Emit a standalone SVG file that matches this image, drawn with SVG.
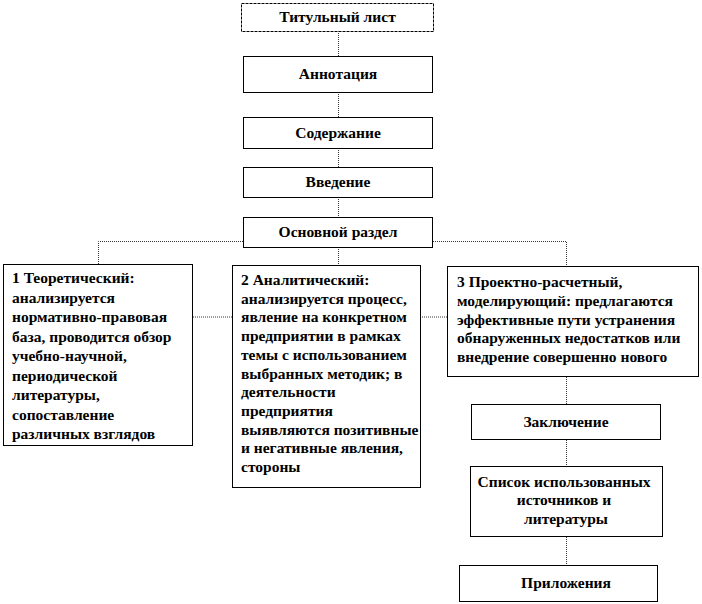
<svg xmlns="http://www.w3.org/2000/svg" width="702" height="604" viewBox="0 0 702 604">
<style>
.box{fill:#fff;stroke:#000;stroke-width:1}
.dash{stroke-dasharray:3,1}
.con{fill:none;stroke:#333;stroke-width:1;stroke-dasharray:1,1}
</style>
<rect width="702" height="604" fill="#fff"/>
<g id="connectors">
<path class="con" d="M338.5,31V56M338.5,92V117M338.5,148V167M338.5,197V217M338.5,247V265"/>
<path class="con" d="M243,241.5H98.5V264M433,241.5H566.5V266"/>
<path class="con" d="M193,317H232M420,317H447"/>
<path class="con" d="M566.5,377V404M566.5,440V466M566.5,537V565"/>
</g>
<g font-family="Times New Roman, Liberation Serif, serif" font-weight="bold" font-size="15.5" fill="#000">
<g id="title">
<rect class="box dash" x="241.5" y="3.5" width="192" height="28"/>
<text text-anchor="middle" x="337.5" y="22">Титульный лист</text>
</g>
<g id="annotation">
<rect class="box" x="243.5" y="56.5" width="189" height="36"/>
<text text-anchor="middle" x="338" y="79">Аннотация</text>
</g>
<g id="contents">
<rect class="box" x="243.5" y="117.5" width="189" height="31"/>
<text text-anchor="middle" x="338" y="138">Содержание</text>
</g>
<g id="intro">
<rect class="box" x="243.5" y="167.5" width="189" height="30"/>
<text text-anchor="middle" x="338" y="187">Введение</text>
</g>
<g id="main">
<rect class="box" x="243.5" y="217.5" width="189" height="30"/>
<text text-anchor="middle" x="338" y="237">Основной раздел</text>
</g>
<g id="theory">
<rect class="box" x="3.5" y="264.5" width="189" height="181"/>
<text>
<tspan x="12" y="283">1 Теоретический:</tspan>
<tspan x="12" y="302.5">анализируется</tspan>
<tspan x="12" y="322">нормативно-правовая</tspan>
<tspan x="12" y="341.5">база, проводится обзор</tspan>
<tspan x="12" y="361">учебно-научной,</tspan>
<tspan x="12" y="380.5">периодической</tspan>
<tspan x="12" y="400">литературы,</tspan>
<tspan x="12" y="419.5">сопоставление</tspan>
<tspan x="12" y="439">различных взглядов</tspan>
</text>
</g>
<g id="analysis">
<rect class="box" x="232.5" y="265.5" width="188" height="222"/>
<text>
<tspan x="241" y="285">2 Аналитический:</tspan>
<tspan x="241" y="303.7">анализируется процесс,</tspan>
<tspan x="241" y="322.4">явление на конкретном</tspan>
<tspan x="241" y="341.1">предприятии в рамках</tspan>
<tspan x="241" y="359.8">темы с использованием</tspan>
<tspan x="241" y="378.5">выбранных методик; в</tspan>
<tspan x="241" y="397.2">деятельности</tspan>
<tspan x="241" y="415.9">предприятия</tspan>
<tspan x="241" y="434.6">выявляются позитивные</tspan>
<tspan x="241" y="453.3">и негативные явления,</tspan>
<tspan x="241" y="472">стороны</tspan>
</text>
</g>
<g id="design">
<rect class="box" x="447.5" y="266.5" width="251" height="110"/>
<text>
<tspan x="457" y="287">3 Проектно-расчетный,</tspan>
<tspan x="457" y="305.75">моделирующий:  предлагаются</tspan>
<tspan x="457" y="324.5">эффективные  пути устранения</tspan>
<tspan x="457" y="343.25">обнаруженных недостатков или</tspan>
<tspan x="457" y="362">внедрение совершенно нового</tspan>
</text>
</g>
<g id="conclusion">
<rect class="box" x="471.5" y="404.5" width="189" height="35"/>
<text text-anchor="middle" x="566" y="427">Заключение</text>
</g>
<g id="references">
<rect class="box" x="470.5" y="466.5" width="192" height="70"/>
<text text-anchor="middle">
<tspan x="566" y="487">Список использованных</tspan>
<tspan x="566" y="505">источников и</tspan>
<tspan x="566" y="524">литературы</tspan>
</text>
</g>
<g id="appendix">
<rect class="box" x="459.5" y="565.5" width="198" height="36"/>
<text text-anchor="middle" x="566" y="588">Приложения</text>
</g>
</g>
</svg>
